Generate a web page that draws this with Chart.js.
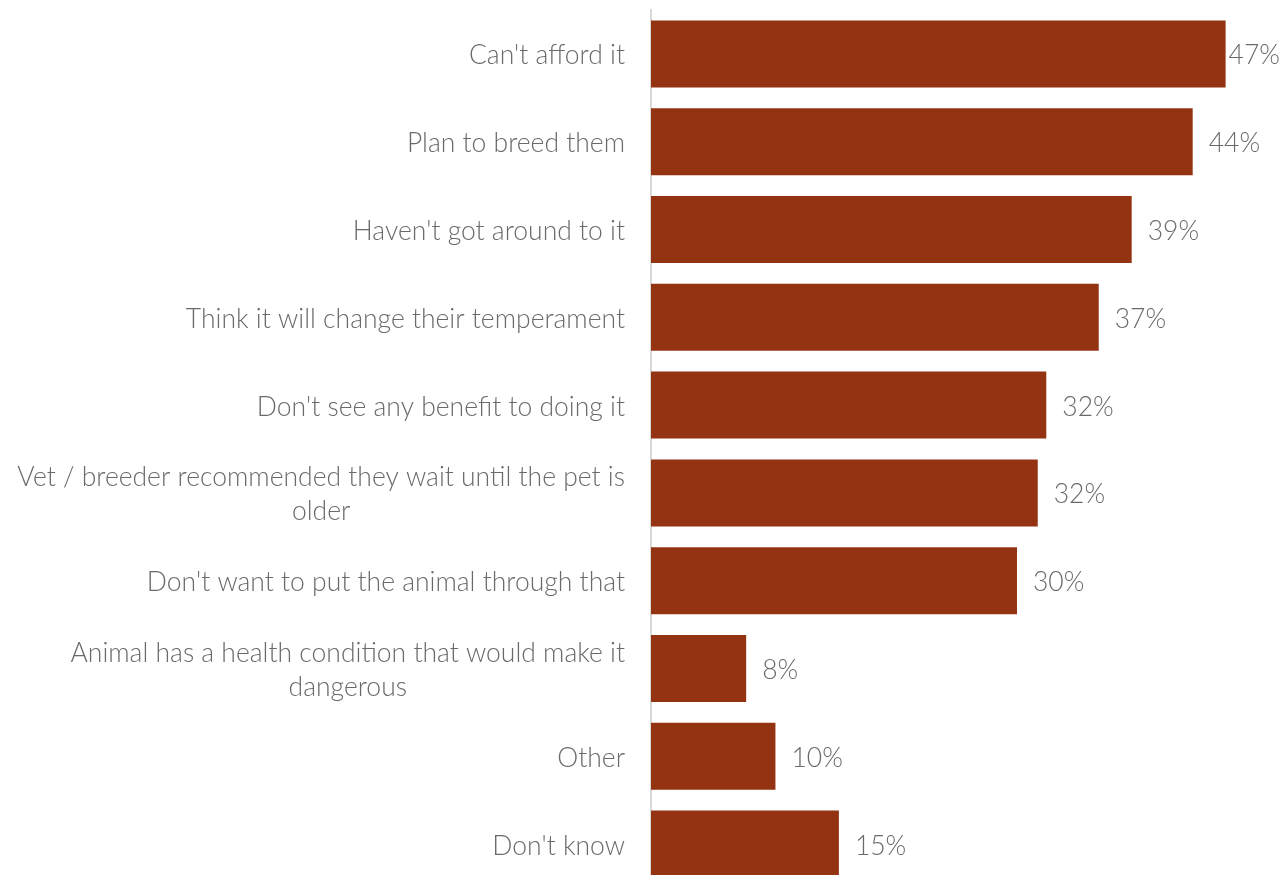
<!DOCTYPE html>
<html>
<head>
<meta charset="utf-8">
<script src="https://cdn.jsdelivr.net/npm/chart.js@4"></script>
<style>
  html, body { margin: 0; padding: 0; background: #fff; overflow: hidden; }
  #wrap { width: 1282px; height: 888px; }
</style>
</head>
<body>
<div id="wrap"><canvas id="chart"></canvas></div>
<script>
// Data
const categories = [
  "Can't afford it",
  'Plan to breed them',
  "Haven't got around to it",
  'Think it will change their temperament',
  "Don't see any benefit to doing it",
  ['Vet / breeder recommended they wait until the pet is', 'older'],
  "Don't want to put the animal through that",
  ['Animal has a health condition that would make it', 'dangerous'],
  'Other',
  "Don't know"
];
const shares = [47.1, 44.4, 39.4, 36.7, 32.4, 31.7, 30.0, 7.8, 10.2, 15.4];

const BAR_COLOR = '#943312';
const TEXT_COLOR = '#6a6a6a';
const FONT = '"Lato", "Helvetica Neue", sans-serif';

// Draws category labels (right aligned block, lines centred) and value labels
const labelPlugin = {
  id: 'labels',
  afterDatasetsDraw(chart) {
    const { ctx, chartArea, scales } = chart;
    const meta = chart.getDatasetMeta(0);
    ctx.save();
    ctx.fillStyle = TEXT_COLOR;
    ctx.font = '300 26.5px ' + FONT;
    ctx.textBaseline = 'middle';
    ctx.textAlign = 'center';
    const right = chartArea.left - 26;
    const lineH = 34;
    categories.forEach((cat, i) => {
      const lines = Array.isArray(cat) ? cat : [cat];
      const y = scales.y.getPixelForValue(i) + 2;
      const w = Math.max(...lines.map(l => ctx.measureText(l).width));
      const cx = right - w / 2;
      lines.forEach((l, j) => {
        ctx.fillText(l, cx, y + (j - (lines.length - 1) / 2) * lineH);
      });
    });
    ctx.textAlign = 'left';
    meta.data.forEach((bar, i) => {
      const txt = Math.round(shares[i]) + '%';
      const w = ctx.measureText(txt).width;
      const x = Math.min(bar.x + 16, chart.width - 2 - w);
      ctx.fillText(txt, x, bar.y + 2);
    });
    ctx.restore();
  }
};

new Chart(document.getElementById('chart'), {
  type: 'bar',
  data: {
    labels: categories,
    datasets: [{
      data: shares,
      backgroundColor: BAR_COLOR,
      barPercentage: 0.763,
      categoryPercentage: 1
    }]
  },
  options: {
    indexAxis: 'y',
    responsive: true,
    maintainAspectRatio: false,
    animation: false,
    layout: { padding: { left: 643, right: 21, top: 10, bottom: 0 } },
    plugins: { legend: { display: false }, tooltip: { enabled: false } },
    scales: {
      x: {
        min: 0,
        max: 50,
        display: false
      },
      y: {
        grid: { display: false },
        border: { display: true, color: '#d9d9d9', width: 2 },
        ticks: { display: false }
      }
    }
  },
  plugins: [labelPlugin]
});
</script>
</body>
</html>
